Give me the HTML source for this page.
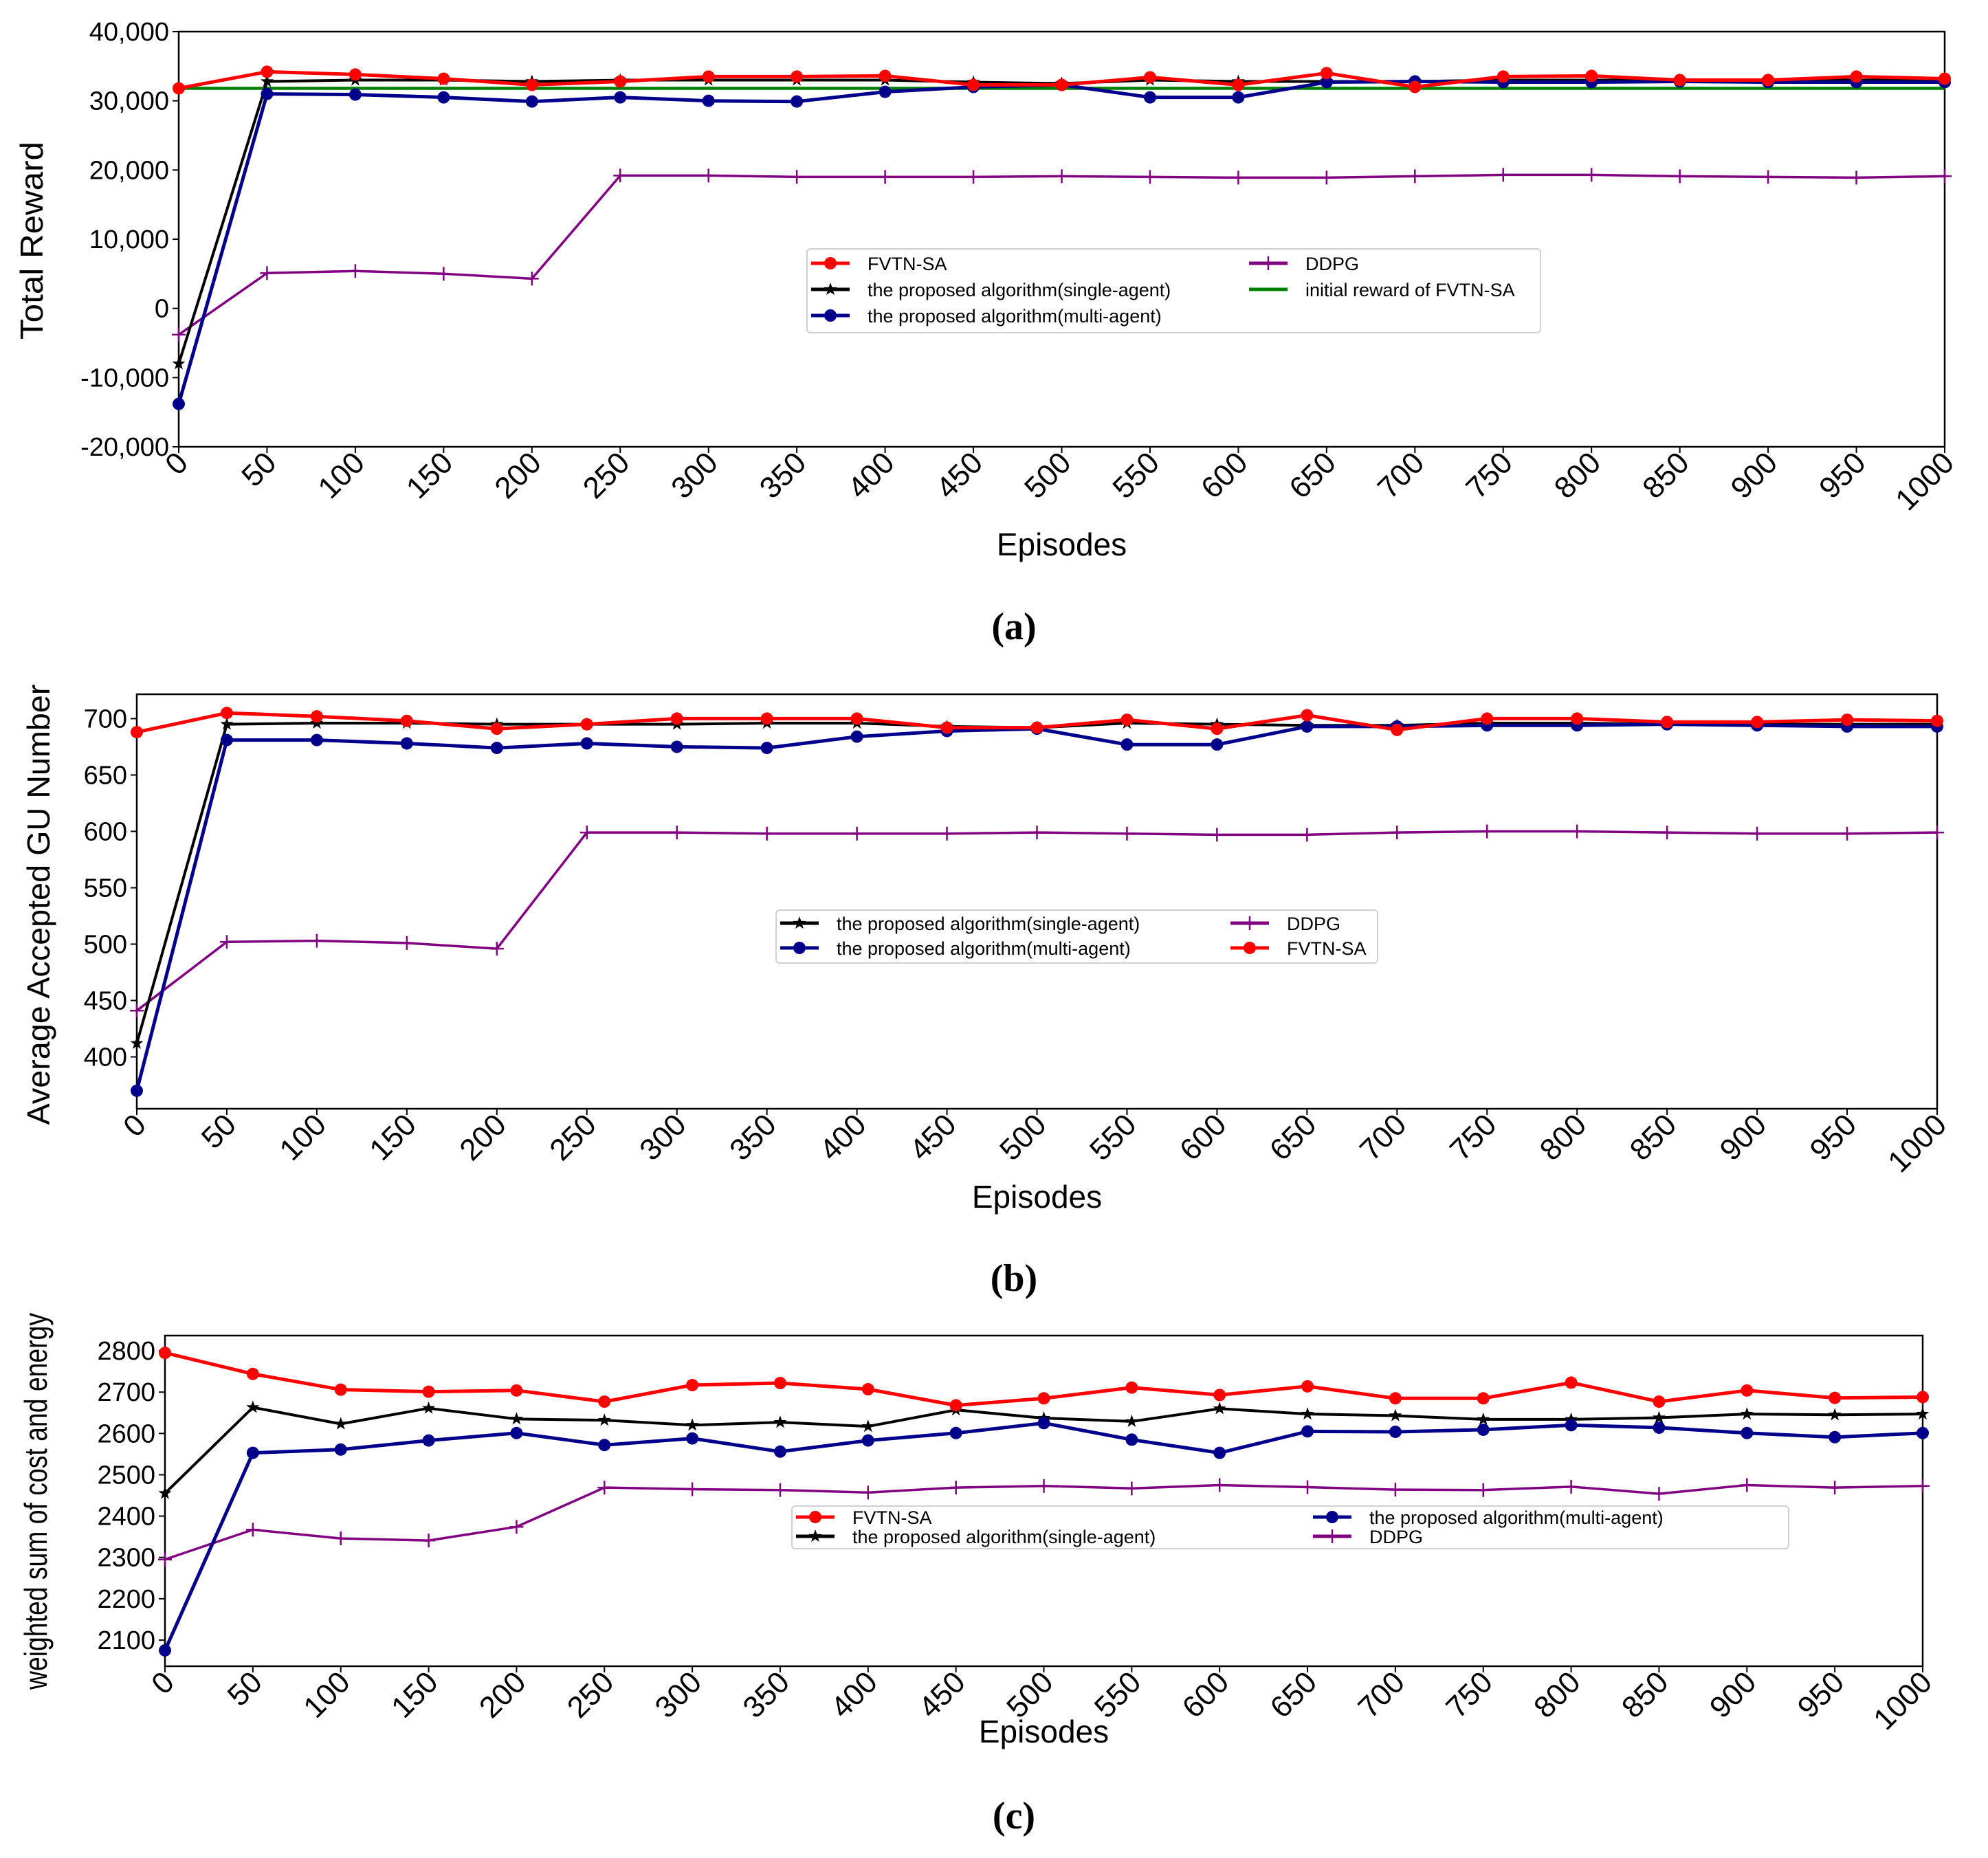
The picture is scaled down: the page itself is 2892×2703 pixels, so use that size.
<!DOCTYPE html>
<html><head><meta charset="utf-8"><style>
body{margin:0;background:#fff;}
svg{display:block;font-family:"Liberation Sans",sans-serif;}
</style></head><body>
<svg id="root" width="2892" height="2703" viewBox="0 0 2892 2703" xmlns="http://www.w3.org/2000/svg"></svg>
<script>
const episodes=[0,50,100,150,200,250,300,350,400,450,500,550,600,650,700,750,800,850,900,950,1000];
const xTicks=episodes;
// Chart (a)
const aFvtn=[31800,34200,33800,33200,32300,32800,33500,33500,33600,32300,32300,33400,32300,34000,32000,33500,33600,33000,33000,33500,33200];
const aSingle=[-8000,32800,33000,33000,32800,33000,33000,33000,33000,32700,32500,33000,32800,32800,32800,33000,33000,33000,33000,33000,33000];
const aMulti=[-13800,31000,30900,30500,29900,30500,30000,29900,31300,32000,32300,30500,30500,32700,32800,32700,32700,32800,32700,32700,32700];
const aDdpg=[-3800,5100,5400,5000,4300,19200,19200,19000,19000,19000,19100,19000,18900,18900,19100,19300,19300,19100,19000,18900,19100];
const aInitial=[31800,31800];
const aYTicks=[-20000,-10000,0,10000,20000,30000,40000];
const aYLabels=["-20,000","-10,000","0","10,000","20,000","30,000","40,000"];
// Chart (b)
const bFvtn=[688,705,702,698,691,695,700,700,700,692,692,699,691,703,690,700,700,697,697,699,698];
const bSingle=[412,695,696,696,695,695,695,696,696,693,692,696,695,694,694,696,696,695,695,695,695];
const bMulti=[370,681,681,678,674,678,675,674,684,689,691,677,677,693,693,694,694,695,694,693,693];
const bDdpg=[441,502,503,501,496,599,599,598,598,598,599,598,597,597,599,600,600,599,598,598,599];
const bYTicks=[400,450,500,550,600,650,700];
// Chart (c)
const cFvtn=[2795,2744,2706,2701,2704,2677,2717,2722,2707,2668,2685,2711,2693,2714,2685,2685,2723,2677,2704,2686,2688];
const cSingle=[2455,2663,2623,2661,2635,2632,2620,2627,2617,2657,2637,2629,2660,2647,2643,2634,2634,2638,2647,2645,2647];
const cMulti=[2075,2553,2561,2583,2601,2572,2588,2556,2583,2601,2625,2585,2553,2605,2604,2609,2620,2614,2601,2591,2601];
const cDdpg=[2295,2367,2346,2341,2374,2469,2465,2463,2457,2469,2473,2467,2475,2470,2464,2463,2471,2454,2475,2469,2473];
const cYTicks=[2100,2200,2300,2400,2500,2600,2700,2800];

const NS="http://www.w3.org/2000/svg";
const root=document.getElementById('root');
function mk(tag,attrs,parent){const e=document.createElementNS(NS,tag);for(const k in attrs)e.setAttribute(k,attrs[k]);(parent||root).appendChild(e);return e;}

const COL={red:'#ff0000',black:'#000000',navy:'#00008b',purple:'#800080',green:'#008000'};

function marker(g,type,x,y,color){
  let m;
  if(type==='circle'){m=mk('circle',{cx:x,cy:y,r:9,fill:color},g);}
  else if(type==='star'){
    let pts=[];for(let i=0;i<10;i++){const r=i%2?4:10;const a=-Math.PI/2+i*Math.PI/5;pts.push((x+r*Math.cos(a)).toFixed(1)+','+(y+r*Math.sin(a)).toFixed(1));}
    m=mk('polygon',{points:pts.join(' '),fill:color},g);
  } else if(type==='plus'){
    m=mk('path',{d:`M${x-10},${y}H${x+10}M${x},${y-10}V${y+10}`,stroke:color,'stroke-width':2.5,fill:'none'},g);
  } else return;
  
  
}

function chart(cfg){
  const g=mk('g',{});
  
  
  const L=cfg.x0,R=cfg.x1,T=cfg.y0,B=cfg.y1;
  const sx=v=>L+(v-0)/(1000)*(R-L);
  const sy=v=>B-(v-cfg.ymin)/(cfg.ymax-cfg.ymin)*(B-T);
  const frame=mk('rect',{x:L,y:T,width:R-L,height:B-T,fill:'none',stroke:'#000','stroke-width':2.5},g);
  
  
  cfg.yticks.forEach((v,i)=>{
    const y=sy(v);
    mk('line',{x1:L-9,x2:L,y1:y,y2:y,stroke:'#000','stroke-width':2},g);
    const t=mk('text',{x:L-14,y:y+13,'text-anchor':'end','font-size':38,fill:'#000'},g);
    t.textContent=cfg.ylabels?cfg.ylabels[i]:String(v);
    
    
  });
  xTicks.forEach(v=>{
    const x=sx(v);
    mk('line',{x1:x,x2:x,y1:B,y2:B+9,stroke:'#000','stroke-width':2},g);
    const t=mk('text',{x:0,y:0,'text-anchor':'end','font-size':44,fill:'#000',transform:`translate(${x+16},${B+26}) rotate(-45)`},g);
    t.textContent=String(v);
    
    
  });
  const xt=mk('text',{x:(L+R)/2,y:cfg.xtitleY,'text-anchor':'middle','font-size':46,fill:'#000'},g);
  xt.textContent='Episodes';
  
  
  const yt=mk('text',{x:0,y:0,'text-anchor':'middle','font-size':46,fill:'#000',textLength:cfg.ytitleLen,lengthAdjust:'spacingAndGlyphs',transform:`translate(${cfg.ytitleX},${cfg.ytitleC}) rotate(-90)`},g);
  yt.textContent=cfg.ytitle;
  
  
  cfg.series.forEach(s=>{
    const sg=mk('g',{},g);
    
    
    const xs=s.xs||episodes;
    const d=s.data.map((v,i)=>(i?'L':'M')+sx(xs[i]).toFixed(1)+','+sy(v).toFixed(1)).join('');
    mk('path',{d:d,fill:'none',stroke:s.color,'stroke-width':s.w,'stroke-linejoin':'round'},sg);
    s.data.forEach((v,i)=>marker(sg,s.marker,sx(xs[i]),sy(v),s.color));
  });
  const lg=mk('g',{},g);
  
  
  const lb=cfg.legend.box;
  mk('rect',{x:lb[0],y:lb[1],width:lb[2],height:lb[3],rx:5,fill:'#fff',stroke:'#d0d0d0','stroke-width':2},lg);
  cfg.legend.items.forEach(it=>{
    const eg=mk('g',{},lg);
    
    
    mk('line',{x1:it.x,x2:it.x+56,y1:it.y,y2:it.y,stroke:it.color,'stroke-width':5},eg);
    marker(eg,it.marker,it.x+28,it.y,it.color);
    const t=mk('text',{x:it.x+82,y:it.y+10,'font-size':27,fill:'#000'},eg);
    t.textContent=it.label;
  });
  const cap=mk('text',{x:1475,y:cfg.capY,'text-anchor':'middle','font-size':56,'font-weight':'bold','font-family':'"Liberation Serif",serif',fill:'#000'},g);
  cap.textContent=cfg.caption;
  
  
}

chart({name:'chart-total-reward',x0:260,x1:2829,y0:46,y1:650,ymin:-20000,ymax:40000,yticks:aYTicks,ylabels:aYLabels,
  xtitleY:808,ytitle:'Total Reward',ytitleX:62,ytitleC:350,ytitleLen:288,capY:930,caption:'(a)',
  series:[
    {name:'series-initial-reward',data:aInitial,xs:[0,1000],color:COL.green,w:4.5,marker:'none'},
    {name:'series-ddpg',data:aDdpg,color:COL.purple,w:3.5,marker:'plus'},
    {name:'series-single-agent',data:aSingle,color:COL.black,w:4,marker:'star'},
    {name:'series-multi-agent',data:aMulti,color:COL.navy,w:5,marker:'circle'},
    {name:'series-fvtn-sa',data:aFvtn,color:COL.red,w:5,marker:'circle'}],
  legend:{box:[1174,362,1067,122],items:[
    {x:1180,y:383,color:COL.red,marker:'circle',label:'FVTN-SA'},
    {x:1180,y:421,color:COL.black,marker:'star',label:'the proposed algorithm(single-agent)'},
    {x:1180,y:459,color:COL.navy,marker:'circle',label:'the proposed algorithm(multi-agent)'},
    {x:1817,y:383,color:COL.purple,marker:'plus',label:'DDPG'},
    {x:1817,y:421,color:COL.green,marker:'none',label:'initial reward of FVTN-SA'}]}
});

chart({name:'chart-accepted-gu',x0:199,x1:2818,y0:1010,y1:1613,ymin:354,ymax:721.6,yticks:bYTicks,
  xtitleY:1757,ytitle:'Average Accepted GU Number',ytitleX:72,ytitleC:1316,ytitleLen:641,capY:1878,caption:'(b)',
  series:[
    {name:'series-ddpg',data:bDdpg,color:COL.purple,w:3.5,marker:'plus'},
    {name:'series-single-agent',data:bSingle,color:COL.black,w:4,marker:'star'},
    {name:'series-multi-agent',data:bMulti,color:COL.navy,w:5,marker:'circle'},
    {name:'series-fvtn-sa',data:bFvtn,color:COL.red,w:5,marker:'circle'}],
  legend:{box:[1129,1324,875,77],items:[
    {x:1135,y:1343,color:COL.black,marker:'star',label:'the proposed algorithm(single-agent)'},
    {x:1135,y:1379,color:COL.navy,marker:'circle',label:'the proposed algorithm(multi-agent)'},
    {x:1790,y:1343,color:COL.purple,marker:'plus',label:'DDPG'},
    {x:1790,y:1379,color:COL.red,marker:'circle',label:'FVTN-SA'}]}
});

chart({name:'chart-weighted-cost',x0:240,x1:2797,y0:1943,y1:2424,ymin:2036.7,ymax:2836.8,yticks:cYTicks,
  xtitleY:2535,ytitle:'weighted sum of cost and energy',ytitleX:68,ytitleC:2184,ytitleLen:548,capY:2660,caption:'(c)',
  series:[
    {name:'series-ddpg',data:cDdpg,color:COL.purple,w:3.5,marker:'plus'},
    {name:'series-single-agent',data:cSingle,color:COL.black,w:4,marker:'star'},
    {name:'series-multi-agent',data:cMulti,color:COL.navy,w:5,marker:'circle'},
    {name:'series-fvtn-sa',data:cFvtn,color:COL.red,w:5,marker:'circle'}],
  legend:{box:[1152,2191,1450,62],items:[
    {x:1158,y:2207,color:COL.red,marker:'circle',label:'FVTN-SA'},
    {x:1158,y:2235,color:COL.black,marker:'star',label:'the proposed algorithm(single-agent)'},
    {x:1910,y:2207,color:COL.navy,marker:'circle',label:'the proposed algorithm(multi-agent)'},
    {x:1910,y:2235,color:COL.purple,marker:'plus',label:'DDPG'}]}
});
</script>
</body></html>
